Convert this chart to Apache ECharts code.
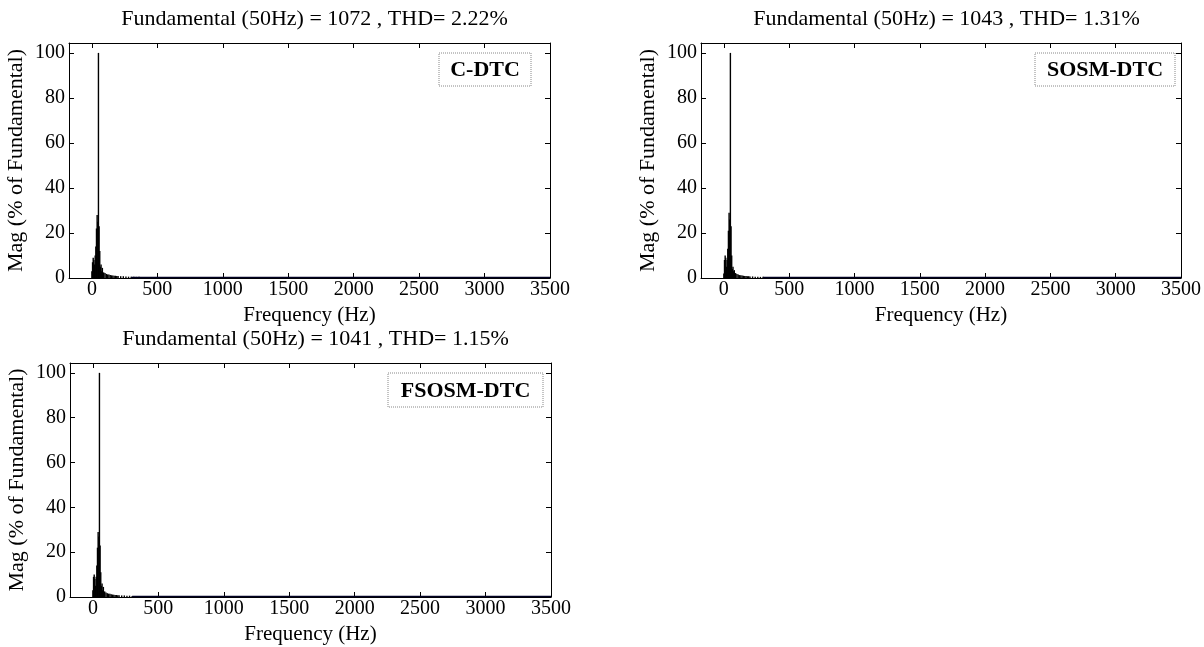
<!DOCTYPE html>
<html>
<head>
<meta charset="utf-8">
<script src="https://cdn.jsdelivr.net/npm/echarts@6/dist/echarts.min.js"></script>
<style>
    html, body { margin: 0; padding: 0; background: #fff; }
    #main { width: 1204px; height: 647px; }
</style>
</head>
<body>
<div id="main"></div>
<script>
// frequency bins (Hz) of the low part of the spectrum
let freqs = [0,5,10,15,20,25,30,35,40,45,50,55,60,65,70,75,80,90,100,110,120,130,140,150,160,170,180,190,200,220,240,260,280,300,320,340,360,380,400,425];

// magnitude (% of fundamental)
let magCDTC  = [3,7,9,8,6,10,14,22,28,25,100,23,12,5,6,3,4.5,2.5,2.2,1.8,1.6,1.5,1.3,1.2,1.1,1.0,1.0,0.9,0.9,0.8,0.8,0.7,0.6,0.6,0.5,0.5,0.5,0.4,0.4,0.3];
let magSOSM  = [2,8,10,9,5,8,13,21,29,26,100,23,10,4,5,3,3.5,2.2,1.8,1.5,1.3,1.2,1.1,1.0,0.9,0.9,0.8,0.8,0.7,0.7,0.6,0.6,0.5,0.5,0.4,0.4,0.4,0.3,0.3,0.3];
let magFSOSM = [3,9,10,8,5,9,14,22,29,27,100,23,11,5,6,3,4.5,2.5,2.0,1.7,1.5,1.4,1.2,1.1,1.0,0.9,0.9,0.8,0.8,0.7,0.7,0.6,0.6,0.5,0.5,0.4,0.4,0.4,0.3,0.3];

// high frequency floor
let floorFreqs = [300, 1000, 2000, 3500];
let floorCDTC  = [0.25, 0.25, 0.2, 0.2];
let floorSOSM  = [0.25, 0.2, 0.2, 0.2];
let floorFSOSM = [0.25, 0.25, 0.2, 0.2];

let xTicks = [0,500,1000,1500,2000,2500,3000,3500];
let yTicks = [0,20,40,60,80,100];

let titles = [
    'Fundamental (50Hz) = 1072 , THD= 2.22%',
    'Fundamental (50Hz) = 1043 , THD= 1.31%',
    'Fundamental (50Hz) = 1041 , THD= 1.15%'
];
let names = ['C-DTC', 'SOSM-DTC', 'FSOSM-DTC'];
let mags = [magCDTC, magSOSM, magFSOSM];
let floors = [floorCDTC, floorSOSM, floorFSOSM];

let font = '"Liberation Serif", "Times New Roman", serif';

// plot boxes
let grids = [
    {left: 69,  top: 43,  width: 481, height: 235},
    {left: 701, top: 43,  width: 481, height: 235},
    {left: 70,  top: 363, width: 481, height: 234}
];
// legend boxes
let boxes = [
    {x: 439,  y: 53,  w: 92,  h: 33},
    {x: 1035, y: 53,  w: 140, h: 33},
    {x: 388,  y: 373, w: 155, h: 34}
];

let lineStyle = {color: '#000', width: 1};
let plain = function (v) { return String(v); };

let option = {
    animation: false,
    backgroundColor: '#fff',
    title: [],
    grid: [],
    xAxis: [],
    yAxis: [],
    series: [],
    graphic: []
};

grids.forEach(function (g, i) {
    option.grid.push(g);

    option.title.push({
        text: titles[i],
        left: g.left + g.width / 2,
        top: g.top - 40,
        textAlign: 'center',
        textStyle: {fontFamily: font, fontSize: 22, fontWeight: 'normal', color: '#000'}
    });

    // bottom + top x axis
    option.xAxis.push({
        type: 'value', gridIndex: i, min: -175, max: 3500,
        name: 'Frequency (Hz)', nameLocation: 'middle', nameGap: 27,
        nameTextStyle: {fontFamily: font, fontSize: 21, color: '#000'},
        axisLine: {show: true, onZero: false, lineStyle: lineStyle},
        axisTick: {show: true, inside: true, length: 5, customValues: xTicks, lineStyle: lineStyle},
        axisLabel: {show: true, customValues: xTicks, formatter: plain, margin: 2, fontFamily: font, fontSize: 20, color: '#000'},
        splitLine: {show: false}
    });
    option.xAxis.push({
        type: 'value', gridIndex: i, position: 'top', min: -175, max: 3500,
        axisLine: {show: true, onZero: false, lineStyle: lineStyle},
        axisTick: {show: true, inside: true, length: 5, customValues: xTicks, lineStyle: lineStyle},
        axisLabel: {show: false},
        splitLine: {show: false}
    });

    // left + right y axis
    option.yAxis.push({
        type: 'value', gridIndex: i, min: 0, max: 104.4,
        name: 'Mag (% of Fundamental)', nameLocation: 'middle', nameGap: 42,
        nameTextStyle: {fontFamily: font, fontSize: 22, color: '#000'},
        axisLine: {show: true, onZero: false, lineStyle: lineStyle},
        axisTick: {show: true, inside: true, length: 5, customValues: yTicks, lineStyle: lineStyle},
        axisLabel: {show: true, customValues: yTicks, margin: 4, fontFamily: font, fontSize: 20, color: '#000'},
        splitLine: {show: false}
    });
    option.yAxis.push({
        type: 'value', gridIndex: i, position: 'right', min: 0, max: 104.4,
        axisLine: {show: true, onZero: false, lineStyle: lineStyle},
        axisTick: {show: true, inside: true, length: 5, customValues: yTicks, lineStyle: lineStyle},
        axisLabel: {show: false},
        splitLine: {show: false}
    });

    // spectrum bars
    option.series.push({
        type: 'bar',
        xAxisIndex: i * 2, yAxisIndex: i * 2,
        barWidth: 1.4,
        itemStyle: {color: '#000'},
        data: freqs.map(function (f, k) { return [f, mags[i][k]]; })
    });
    // high frequency floor
    option.series.push({
        type: 'line',
        xAxisIndex: i * 2, yAxisIndex: i * 2,
        symbol: 'none',
        lineStyle: {color: '#000022', width: 1.5},
        data: floorFreqs.map(function (f, k) { return [f, floors[i][k]]; })
    });

    // legend box
    let b = boxes[i];
    option.graphic.push({
        type: 'rect',
        shape: {x: b.x, y: b.y, width: b.w, height: b.h},
        style: {fill: '#fff', stroke: '#888', lineWidth: 1, lineDash: [1, 1]},
        z: 100
    });
    option.graphic.push({
        type: 'text',
        x: b.x + b.w / 2, y: b.y + b.h / 2 + 1,
        style: {text: names[i], fontFamily: font, fontSize: 22, fontWeight: 'bold', fill: '#000', align: 'center', verticalAlign: 'middle'},
        z: 101
    });
});

let myChart = echarts.init(document.getElementById('main'));
myChart.setOption(option);
</script>
</body>
</html>
